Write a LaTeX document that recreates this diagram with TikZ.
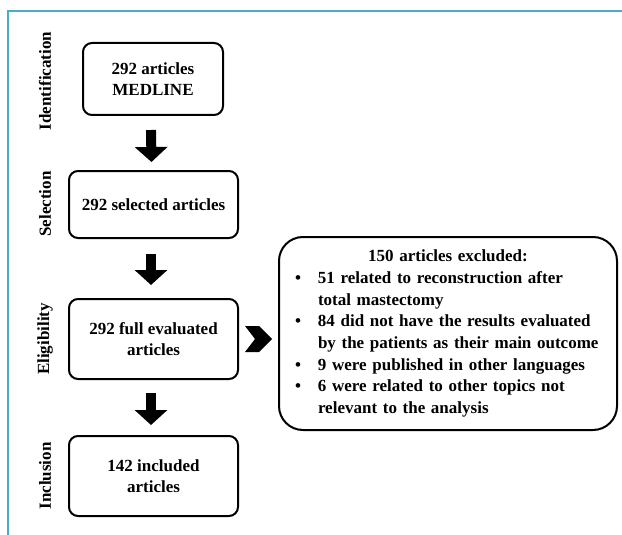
\documentclass[tikz,border=0pt]{standalone}
\usepackage{fontspec}
\setmainfont{Liberation Serif}
\usetikzlibrary{arrows.meta}
\definecolor{frameteal}{RGB}{75,172,198}
\tikzset{
  stagebox/.style={draw, line width=2pt, rounded corners=9pt, align=center,
    font=\bfseries\fontsize{17}{21}\selectfont},
  stagelabel/.style={rotate=90, font=\bfseries\fontsize{17}{21}\selectfont},
  blockarrow/.style={line width=10pt, -{Triangle[width=32pt,length=15pt]}},
}
\newcommand{\exitem}[1]{\par\noindent\hangindent=23pt\hangafter=1\makebox[23pt][l]{\textbullet}#1}
\begin{document}
\begin{tikzpicture}
    [x=1pt, y=1pt]
    \useasboundingbox (0,0) rectangle (622,-535);
    % frame
    \draw[frameteal, line width=2pt] (8,-535) -- (8,-11) -- (622,-11);
    % stage labels
    \node[stagelabel] (lid) at (45,-81) {Identification};
    \node[stagelabel] (lsel) at (45,-204) {Selection};
    \node[stagelabel] (lel) at (45,-339) {Eligibility};
    \node[stagelabel] (lin) at (45,-476) {Inclusion};
    % boxes
    \node[stagebox, minimum width=140pt, minimum height=72pt] (medline) at (153,-79)
        {292 articles\\MEDLINE};
    \node[stagebox, minimum width=169pt, minimum height=67pt] (selected) at (153.5,-204.5)
        {292 selected articles};
    \node[stagebox, minimum width=169pt, minimum height=80pt] (evaluated) at (153.5,-339)
        {292 full evaluated\\articles};
    \node[stagebox, minimum width=169pt, minimum height=80pt] (included) at (153.5,-476)
        {142 included\\articles};
    \node[stagebox, rounded corners=24pt, align=left, text width=306pt, inner xsep=16pt,
        minimum height=193pt, font=\bfseries\fontsize{17}{21.7}\selectfont] (excluded) at (448,-333.5)
        {\hyphenpenalty=10000
         {\centering 150 articles excluded:\par}
         \exitem{51 related to reconstruction after\newline total mastectomy}
         \exitem{84 did not have the results evaluated\newline by the patients as their main outcome}
         \exitem{9 were published in other languages}
         \exitem{6 were related to other topics not\newline relevant to the analysis}\par};
    % arrows
    \draw[blockarrow] ([xshift=-2pt, yshift=-14pt]medline.south) -- ([xshift=-2pt, yshift=8pt]selected.north);
    \draw[blockarrow] ([xshift=-2.5pt, yshift=-15pt]selected.south) -- ([xshift=-2.5pt, yshift=13pt]evaluated.north);
    \draw[blockarrow] ([xshift=-2.5pt, yshift=-13pt]evaluated.south) -- ([xshift=-2.5pt, yshift=10pt]included.north);
    \fill ([xshift=6pt, yshift=13pt]evaluated.east) -- ++(14,0) -- ++(13,-13) -- ++(-13,-13)
        -- ++(-14,0) -- ++(10,13) -- cycle;
\end{tikzpicture}
\end{document}
